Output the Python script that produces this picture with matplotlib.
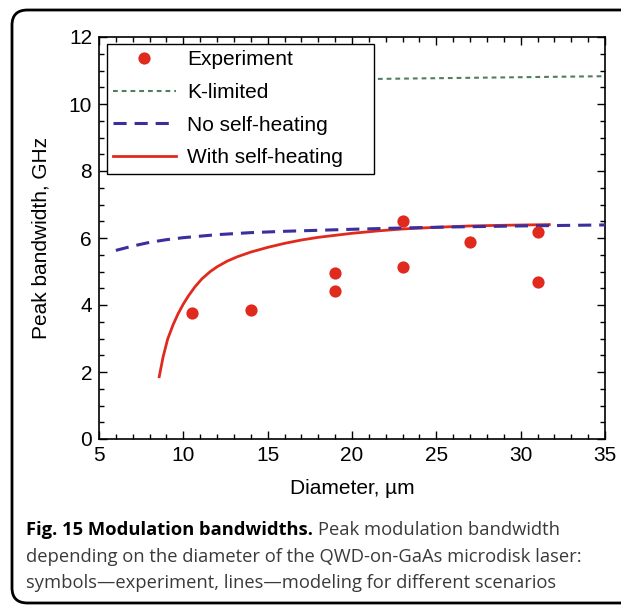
import matplotlib.pyplot as plt
from matplotlib.patches import FancyBboxPatch
from matplotlib.ticker import MultipleLocator

# Experimental points
exp_d = [10.5, 14.0, 19.0, 19.0, 23.0, 23.0, 27.0, 31.0, 31.0]
exp_bw = [3.77, 3.84, 4.96, 4.43, 6.50, 5.13, 5.87, 6.19, 4.70]

# K-limited
k_d = [6, 8, 12, 16, 20, 25, 30, 35]
k_bw = [10.4, 10.55, 10.65, 10.7, 10.74, 10.77, 10.8, 10.83]

# No self-heating
nsh_d = [6, 7, 8, 9, 10, 12, 14, 16, 18, 20, 23, 26, 30, 35]
nsh_bw = [5.63, 5.76, 5.87, 5.95, 6.01, 6.10, 6.16, 6.20, 6.23, 6.26, 6.30, 6.33, 6.36, 6.39]

# With self-heating
sh_d = [8.57, 8.8, 9.07, 9.4, 9.7, 10.0, 10.3, 10.7, 11.1, 11.6, 12.0, 12.6, 13.2,
        14.0, 15.0, 16.0, 17.0, 18.0, 19.0, 20.0, 21.5, 23.0, 25.0, 27.0, 29.0, 31.7]
sh_bw = [1.86, 2.45, 2.98, 3.42, 3.75, 4.03, 4.27, 4.55, 4.78, 5.0, 5.14, 5.31, 5.44,
         5.58, 5.72, 5.84, 5.94, 6.02, 6.08, 6.14, 6.21, 6.27, 6.32, 6.36, 6.38, 6.40]

red = "#e02a1e"
blue = "#3b2f9e"
green = "#4f7f5f"

plt.rcParams["font.family"] = ["Liberation Sans", "DejaVu Sans"]

fig = plt.figure(figsize=(6.21, 6.07), dpi=100)
ax = fig.add_axes([99 / 621, 1 - 439 / 607, 506 / 621, 402 / 607])

ax.plot(k_d, k_bw, color=green, lw=1.5, dashes=(2.3, 1.9), label="K-limited", zorder=2)
ax.plot(nsh_d, nsh_bw, color=blue, lw=2.2, dashes=(4.3, 2.6), label="No self-heating", zorder=3)
ax.plot(sh_d, sh_bw, color=red, lw=2.0, label="With self-heating", zorder=2)
ax.plot(exp_d, exp_bw, "o", color=red, ms=8.8, mec="none", label="Experiment", zorder=4)

# Legend box: x from 107 px to 374 px, top at 44 px
handles, labels = ax.get_legend_handles_labels()
order = [3, 0, 1, 2]
leg = ax.legend([handles[i] for i in order], [labels[i] for i in order],
                loc="upper left", bbox_to_anchor=(0.0158, 0.983, 0.5277, 0.0),
                mode="expand", borderaxespad=0,
                fontsize=15, fancybox=False, framealpha=1, edgecolor="black",
                handlelength=3.0, handletextpad=0.55, labelspacing=0.66,
                borderpad=0.3)
leg.get_frame().set_linewidth(1.0)
leg.set_zorder(5)

ax.set_xlim(5, 35)
ax.set_ylim(0, 12)
ax.xaxis.set_major_locator(MultipleLocator(5))
ax.xaxis.set_minor_locator(MultipleLocator(1))
ax.yaxis.set_major_locator(MultipleLocator(2))
ax.yaxis.set_minor_locator(MultipleLocator(0.5))
ax.tick_params(which="both", direction="in", top=True, right=True, labelsize=15)
ax.tick_params(which="major", length=6, width=1.0, pad=5)
ax.tick_params(which="minor", length=3.5, width=1.0)
for s in ax.spines.values():
    s.set_linewidth(1.2)

ax.set_xlabel("Diameter, \u00b5m", fontsize=15, labelpad=10)
ax.set_ylabel("Peak bandwidth, GHz", fontsize=15, labelpad=13)

# Outer rounded frame
frame = FancyBboxPatch((12 / 621, 1 - 603 / 607), 640 / 621, 593 / 607,
                       boxstyle="round,pad=0,rounding_size=0.025",
                       transform=fig.transFigure, fill=False, ec="black", lw=2.0)
fig.patches.append(frame)

# Caption
cap_font = ["Open Sans", "DejaVu Sans"]
cap_size = 13.2
cap_x = 26 / 621
t1 = fig.text(cap_x, 1 - 530 / 607, "Fig. 15 Modulation bandwidths.", family=cap_font,
              fontsize=cap_size, fontweight="bold", va="center", color="black")
fig.canvas.draw()
bb = t1.get_window_extent()
fig.text(bb.x1 / 621 + 0.009, 1 - 530 / 607, "Peak modulation bandwidth", family=cap_font,
         fontsize=cap_size, va="center", color="#3a3a3a")
fig.text(cap_x, 1 - 557 / 607, "depending on the diameter of the QWD-on-GaAs microdisk laser:",
         family=cap_font, fontsize=cap_size, va="center", color="#3a3a3a")
fig.text(cap_x, 1 - 583 / 607, "symbols\u2014experiment, lines\u2014modeling for different scenarios",
         family=cap_font, fontsize=cap_size, va="center", color="#3a3a3a")

fig.savefig("out.png", dpi=100)
